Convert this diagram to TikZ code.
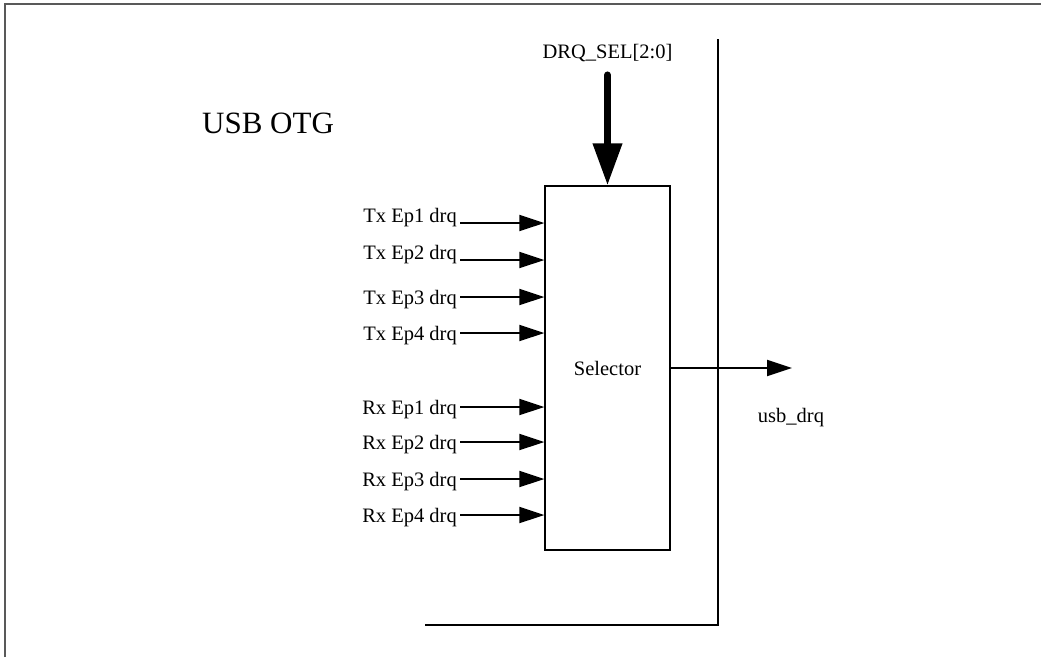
\documentclass[tikz,border=0pt]{standalone}
\usepackage{fontspec}
\setmainfont{Liberation Serif}
\usetikzlibrary{arrows.meta,positioning}

\tikzset{
  lbl/.style={font=\fontsize{20.5}{24}\selectfont, inner sep=1pt},
  sig/.style={line width=2pt, -{Triangle[length=25pt,width=16pt]}},
  bus/.style={line width=7pt, line cap=round, -{Triangle[length=42pt,width=28pt]}},
}

\begin{document}
\begin{tikzpicture}[x=1pt,y=-1pt]
    \useasboundingbox (0,0) rectangle (1041,657);

    % Outer frame
    \draw[black!65, line width=1.5pt] (5,657) -- (5,4) -- (1041,4);

    % Title
    \node[anchor=base west, font=\fontsize{31}{36}\selectfont, inner sep=0pt] (title) at (202,133) {USB OTG};

    % Selector block
    \node[draw, line width=1.3pt, minimum width=125pt, minimum height=364pt, lbl] (sel) at (607.5,368) {Selector};

    % Select input
    \node[lbl] (drqsel) at (607.5,53) {DRQ\_SEL[2:0]};
    \draw[bus, shorten <=12pt] (drqsel.south) -- (sel.north);

    % Tx requests
    \foreach \n/\y in {1/223,2/260} {
        \node[lbl, anchor=base east] (tx\n) at (458,\y-1) {Tx Ep\n\ drq};
        \coordinate (ts\n) at (460,\y);
        \draw[sig] (ts\n) -- (ts\n -| sel.west);
    }
    \foreach \n/\y in {3/297,4/333} {
        \node[lbl, anchor=base east] (tx\n) at (458,\y+7) {Tx Ep\n\ drq};
        \coordinate (ts\n) at (460,\y);
        \draw[sig] (ts\n) -- (ts\n -| sel.west);
    }

    % Rx requests
    \foreach \n/\y in {1/407,2/442,3/479,4/515} {
        \node[lbl, anchor=base east] (rx\n) at (458,\y+7) {Rx Ep\n\ drq};
        \coordinate (rs\n) at (460,\y);
        \draw[sig] (rs\n) -- (rs\n -| sel.west);
    }

    % Output
    \coordinate (out) at (792,368);
    \draw[sig] (sel.east) -- (out);
    \node[lbl] (usbdrq) at (791,418) {usb\_drq};

    % Boundary
    \coordinate (vtop) at (718,39);
    \coordinate (vbot) at (718,625);
    \coordinate (hleft) at (425,625);
    \draw[line width=2pt] (vtop) -- (vbot) -- (hleft);
\end{tikzpicture}
\end{document}
